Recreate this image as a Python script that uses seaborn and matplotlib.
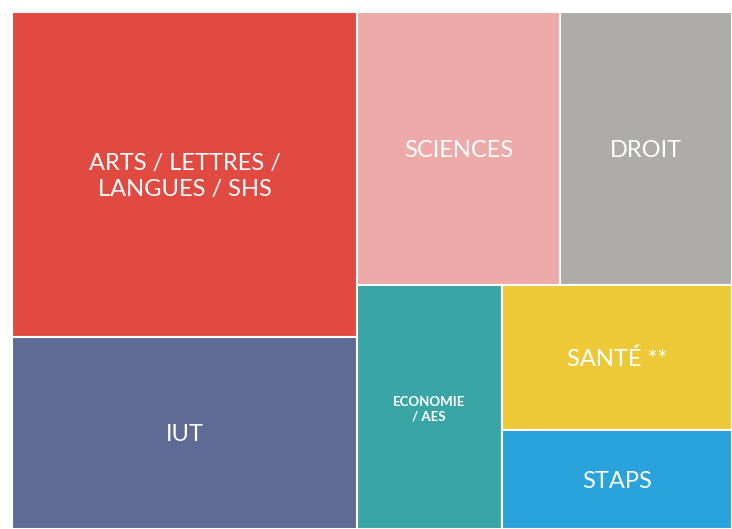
import matplotlib
matplotlib.use("Agg")
import matplotlib.pyplot as plt
from matplotlib.patches import Rectangle
import seaborn as sns

# share of students by field (%)
labels = ["ARTS / LETTRES /\nLANGUES / SHS", "IUT", "SCIENCES", "DROIT",
          "ECONOMIE\n/ AES", "SANTÉ **", "STAPS"]
values = [30.1, 17.8, 14.9, 12.6, 9.5, 9.0, 6.1]
colors = ["#E04A40", "#5F6B95", "#EEAAA8", "#ADACA9",
          "#3AA5A5", "#EDC937", "#2AA3DD"]
font_sizes = [17, 17, 17, 17, 9.5, 17, 17]
weights = ["normal", "normal", "normal", "normal", "bold", "normal", "normal"]


def worst(row, side):
    s = sum(row)
    return max(max(side * side * r / (s * s), (s * s) / (side * side * r)) for r in row)


def layout_row(row, x, y, w, h):
    s = sum(row)
    rects = []
    if w >= h:
        # column on the left
        cw = s / h
        yy = y
        for r in row:
            rects.append((x, yy, cw, r / cw))
            yy += r / cw
        return rects, (x + cw, y, w - cw, h)
    rh = s / w
    xx = x
    for r in row:
        rects.append((xx, y, r / rh, rh))
        xx += r / rh
    return rects, (x, y + rh, w, h - rh)


def squarify(vals, x, y, w, h):
    total = sum(vals)
    areas = [v * w * h / total for v in vals]
    rects = []
    i = 0
    while i < len(areas):
        side = min(w, h)
        row = [areas[i]]
        i += 1
        while i < len(areas) and worst(row + [areas[i]], side) <= worst(row, side):
            row.append(areas[i])
            i += 1
        r, (x, y, w, h) = layout_row(row, x, y, w, h)
        rects += r
    return rects


W, H = 720, 517
rects = squarify(values, 0, 0, W, H)

sns.set_theme(style="white")
plt.rcParams["font.family"] = ["Lato", "DejaVu Sans"]

fig = plt.figure(figsize=(7.32, 5.29), dpi=100)
ax = fig.add_axes([12 / 732, 0, W / 732, H / 529])
ax.set_xlim(0, W)
ax.set_ylim(H, 0)
ax.axis("off")

for (x, y, w, h), lab, c, fs, fw in zip(rects, labels, colors, font_sizes, weights):
    ax.add_patch(Rectangle((x, y), w, h, facecolor=c, edgecolor="white", linewidth=1.5))
    ax.text(x + w / 2, y + h / 2 + 2, lab, color="white", ha="center", va="center",
            fontsize=fs, fontweight=fw, linespacing=1.25)

fig.savefig("out.png", dpi=100)
